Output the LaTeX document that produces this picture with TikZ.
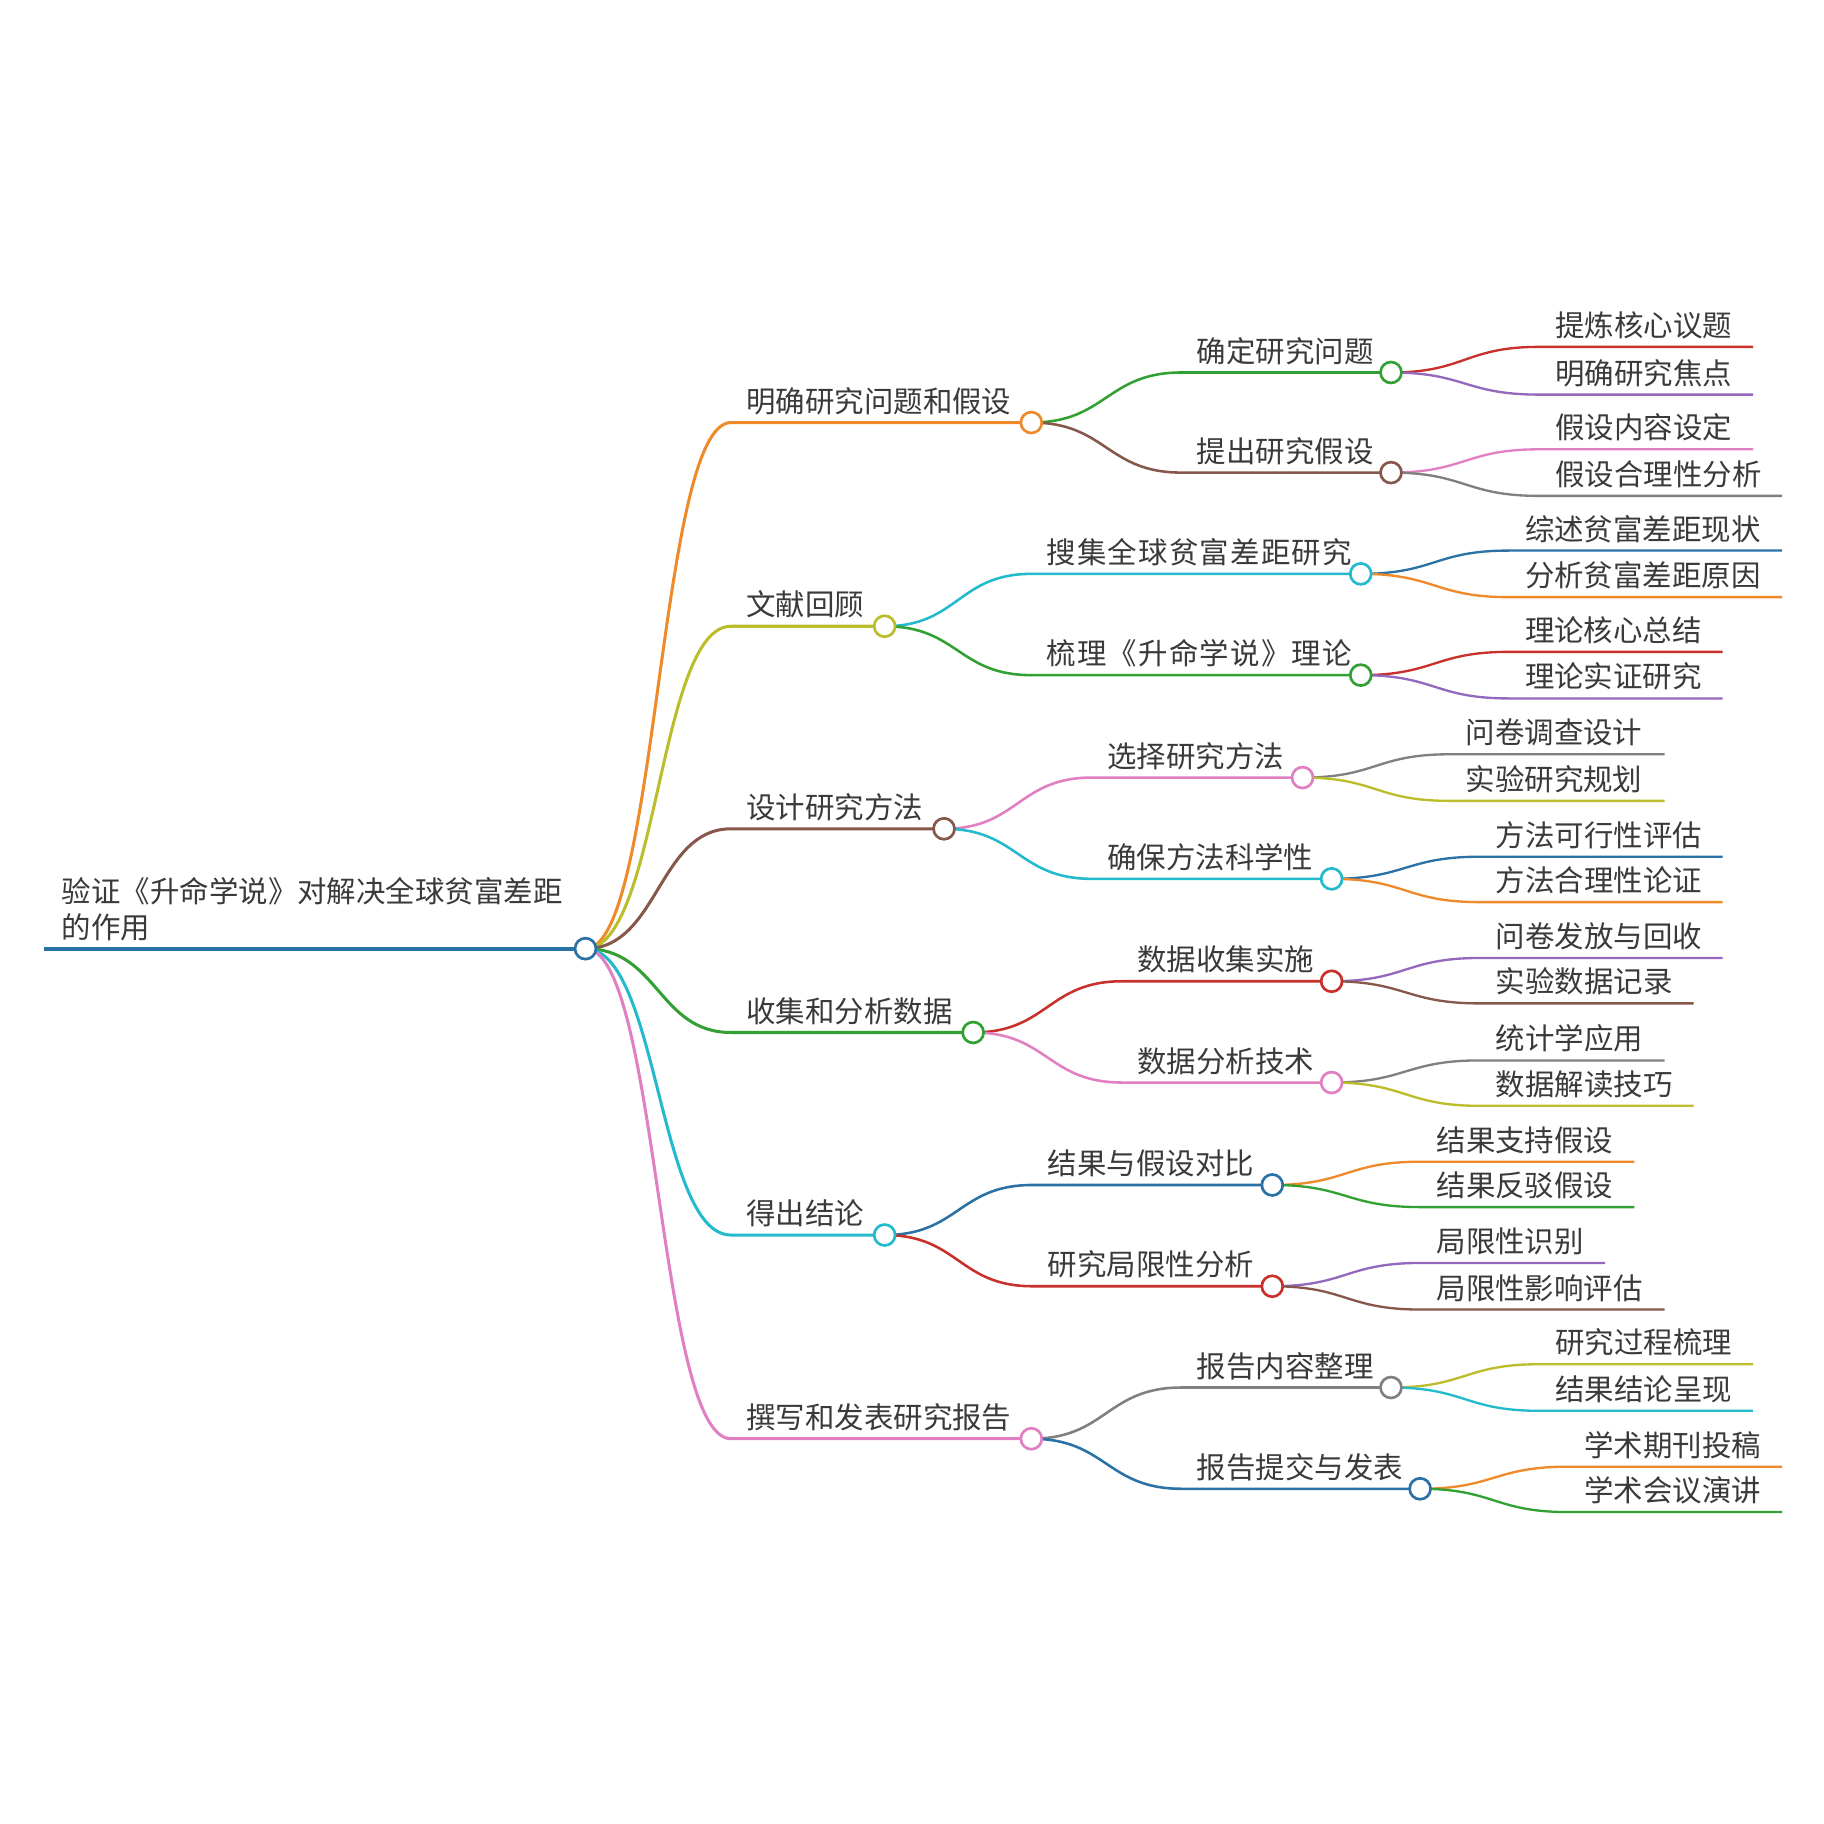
\documentclass[tikz,border=0pt]{standalone}
\usepackage{fontspec}
\setmainfont{Noto Sans CJK SC}
\usetikzlibrary{calc}
\pgfdeclarelayer{bg}
\pgfdeclarelayer{paper}
\pgfsetlayers{paper,bg,main}
\definecolor{cblue}{HTML}{2A71A6}
\definecolor{corange}{HTML}{EE8A2A}
\definecolor{cgreen}{HTML}{33A033}
\definecolor{cred}{HTML}{C9302C}
\definecolor{cpurple}{HTML}{9368BD}
\definecolor{cbrown}{HTML}{87574B}
\definecolor{cpink}{HTML}{E07FC2}
\definecolor{cgray}{HTML}{808080}
\definecolor{colive}{HTML}{BBBD2A}
\definecolor{ccyan}{HTML}{22BACC}
\definecolor{txt}{HTML}{3A3A3A}
\tikzset{
  mmdot/.style={circle, minimum size=18pt, inner sep=0pt, line width=2.3pt, fill=white},
  mmlbl/.style={anchor=base west, inner sep=0pt, text=txt, font=\fontsize{25.3pt}{31pt}\selectfont},
}
% #1 name, #2 parent, #3 xs, #4 y, #5 cx, #6 color, #7 text, #8 line width
\newcommand{\mmbranch}[8]{%
  \coordinate (#1-s) at (#3,#4);
  \coordinate (#1-m) at ($(#2.center)!0.5!(#1-s)$);
  \begin{pgfonlayer}{bg}
  \draw[#6, line width=#8] (#2.center) .. controls (#1-m |- #2.center) and (#1-m |- #1-s) .. (#1-s) -- (#5,#4);
  \end{pgfonlayer}
  \node[mmdot, draw=#6] (#1) at (#5,#4) {};
  \node[mmlbl] (#1-t) at (#3+13,#4-9) {#7};
}
% #1 name, #2 parent, #3 text x, #4 y, #5 xe, #6 color, #7 text
\newcommand{\mmleaf}[7]{%
  \coordinate (#1-s) at (#3-14,#4);
  \coordinate (#1-e) at (#5,#4);
  \coordinate (#1-m) at ($(#2.center)!0.5!(#1-s)$);
  \begin{pgfonlayer}{bg}
  \draw[#6, line width=2pt] (#2.center) .. controls (#1-m |- #2.center) and (#1-m |- #1-s) .. (#1-s) -- (#1-e);
  \end{pgfonlayer}
  \node[mmlbl] (#1-t) at (#3,#4-9) {#7};
}
\begin{document}
\begin{tikzpicture}[x={(1pt,0)}, y={(0,-1pt)}]
\begin{pgfonlayer}{paper}
\fill[white] (0,0) rectangle (1567,1567);
\end{pgfonlayer}
\useasboundingbox (0,0) rectangle (1567,1567);

% root
\coordinate (root-s) at (38,815);
\begin{pgfonlayer}{bg}
\draw[cblue, line width=3.4pt] (root-s) -- (503,815);
\end{pgfonlayer}
\node[mmdot, draw=cblue] (root) at (503,815) {};
\node[mmlbl] (root-t1) at (53,775) {验证《升命学说》对解决全球贫富差距};
\node[mmlbl] (root-t2) at (53,806) {的作用};

% level 1
\mmbranch{A}{root}{628}{363}{886}{corange}{明确研究问题和假设}{2.6pt}
\mmbranch{B}{root}{628}{538}{760}{colive}{文献回顾}{2.6pt}
\mmbranch{C}{root}{628}{712}{811}{cbrown}{设计研究方法}{2.6pt}
\mmbranch{D}{root}{628}{887}{836}{cgreen}{收集和分析数据}{2.6pt}
\mmbranch{E}{root}{628}{1061}{760}{ccyan}{得出结论}{2.6pt}
\mmbranch{F}{root}{628}{1236}{886}{cpink}{撰写和发表研究报告}{2.6pt}

% level 2
\mmbranch{A1}{A}{1015}{320}{1195}{cgreen}{确定研究问题}{2.2pt}
\mmbranch{A2}{A}{1015}{406}{1195}{cbrown}{提出研究假设}{2.2pt}
\mmbranch{B1}{B}{886}{493}{1169}{ccyan}{\addfontfeature{LetterSpace=4}搜集全球贫富差距研究}{2.2pt}
\mmbranch{B2}{B}{886}{580}{1169}{cgreen}{\addfontfeature{LetterSpace=4}梳理《升命学说》理论}{2.2pt}
\mmbranch{C1}{C}{938}{668}{1119}{cpink}{选择研究方法}{2.2pt}
\mmbranch{C2}{C}{938}{755}{1144}{ccyan}{确保方法科学性}{2.2pt}
\mmbranch{D1}{D}{964}{843}{1144}{cred}{数据收集实施}{2.2pt}
\mmbranch{D2}{D}{964}{930}{1144}{cpink}{数据分析技术}{2.2pt}
\mmbranch{E1}{E}{887}{1018}{1093}{cblue}{结果与假设对比}{2.2pt}
\mmbranch{E2}{E}{887}{1105}{1093}{cred}{研究局限性分析}{2.2pt}
\mmbranch{F1}{F}{1015}{1192}{1195}{cgray}{报告内容整理}{2.2pt}
\mmbranch{F2}{F}{1015}{1279}{1220}{cblue}{报告提交与发表}{2.2pt}

% leaves
\mmleaf{A1a}{A1}{1336}{298}{1506}{cred}{提炼核心议题}
\mmleaf{A1b}{A1}{1336}{339}{1506}{cpurple}{明确研究焦点}
\mmleaf{A2a}{A2}{1336}{386}{1506}{cpink}{假设内容设定}
\mmleaf{A2b}{A2}{1336}{426}{1531}{cgray}{假设合理性分析}
\mmleaf{B1a}{B1}{1310}{473}{1531}{cblue}{综述贫富差距现状}
\mmleaf{B1b}{B1}{1310}{513}{1531}{corange}{分析贫富差距原因}
\mmleaf{B2a}{B2}{1310}{560}{1480}{cred}{理论核心总结}
\mmleaf{B2b}{B2}{1310}{600}{1480}{cpurple}{理论实证研究}
\mmleaf{C1a}{C1}{1259}{648}{1430}{cgray}{问卷调查设计}
\mmleaf{C1b}{C1}{1259}{688}{1430}{colive}{实验研究规划}
\mmleaf{C2a}{C2}{1285}{736}{1480}{cblue}{方法可行性评估}
\mmleaf{C2b}{C2}{1285}{775}{1480}{corange}{方法合理性论证}
\mmleaf{D1a}{D1}{1285}{823}{1480}{cpurple}{问卷发放与回收}
\mmleaf{D1b}{D1}{1285}{862}{1455}{cbrown}{实验数据记录}
\mmleaf{D2a}{D2}{1285}{911}{1430}{cgray}{统计学应用}
\mmleaf{D2b}{D2}{1285}{950}{1455}{colive}{数据解读技巧}
\mmleaf{E1a}{E1}{1234}{998}{1404}{corange}{结果支持假设}
\mmleaf{E1b}{E1}{1234}{1037}{1404}{cgreen}{结果反驳假设}
\mmleaf{E2a}{E2}{1234}{1085}{1379}{cpurple}{局限性识别}
\mmleaf{E2b}{E2}{1234}{1125}{1430}{cbrown}{局限性影响评估}
\mmleaf{F1a}{F1}{1336}{1172}{1506}{colive}{研究过程梳理}
\mmleaf{F1b}{F1}{1336}{1212}{1506}{ccyan}{结果结论呈现}
\mmleaf{F2a}{F2}{1361}{1260}{1531}{corange}{学术期刊投稿}
\mmleaf{F2b}{F2}{1361}{1299}{1531}{cgreen}{学术会议演讲}
\end{tikzpicture}
\end{document}
